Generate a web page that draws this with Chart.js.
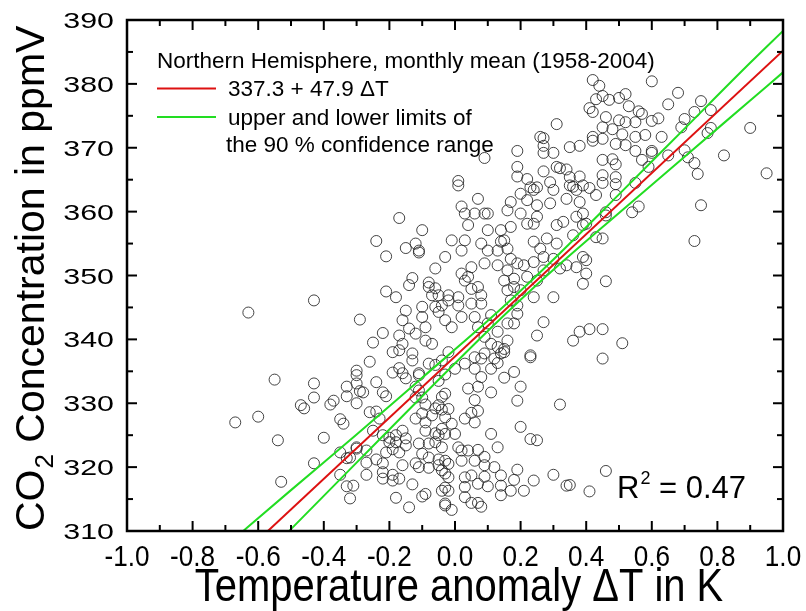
<!DOCTYPE html>
<html>
<head>
<meta charset="utf-8">
<script src="https://cdn.jsdelivr.net/npm/chart.js@4"></script>
<style>
  body { margin: 0; background: #fff; }
  #wrap { width: 806px; height: 611px; }
</style>
</head>
<body>
<div id="wrap"><canvas id="co2Chart" width="806" height="611"></canvas></div>
<script>
// Monthly means, Northern Hemisphere 1958-2004
const tempAnomaly = [
  -0.67,-0.63,-0.60,-0.55,-0.54,-0.53,-0.43,-0.43,-0.43,-0.47,-0.46,-0.40,-0.43,-0.38,-0.37,-0.35,
  -0.34,-0.33,-0.33,-0.30,-0.30,-0.29,-0.28,-0.30,-0.30,-0.26,-0.24,-0.23,-0.24,-0.22,-0.21,-0.35,
  -0.32,-0.30,-0.27,-0.35,-0.33,-0.31,-0.32,-0.27,-0.24,-0.22,-0.21,-0.20,-0.18,-0.19,-0.17,-0.15,
  -0.22,-0.22,-0.19,-0.19,-0.16,-0.17,-0.18,-0.14,-0.30,-0.33,-0.25,-0.27,-0.22,-0.20,-0.18,-0.16,
  -0.15,-0.19,-0.17,-0.16,-0.15,-0.19,-0.17,-0.29,-0.24,-0.21,-0.21,-0.17,-0.25,-0.22,-0.26,
  -0.13,-0.08,-0.11,-0.11,-0.12,-0.11,-0.10,-0.12,-0.09,-0.10,-0.12,-0.09,-0.07,-0.06,-0.05,-0.04,
  -0.13,-0.10,-0.09,-0.03,-0.02,-0.03,-0.09,-0.06,-0.05,-0.04,-0.06,-0.08,-0.11,-0.10,-0.08,-0.05,
  -0.12,-0.11,-0.08,-0.05,-0.03,-0.05,-0.03,-0.06,-0.02,
  -0.10,-0.12,-0.11,-0.11,-0.15,-0.06,-0.03,-0.13,-0.14,-0.08,-0.08,-0.06,-0.05,-0.07,-0.18,-0.15,
  -0.16,-0.14,-0.12,-0.17,-0.16,-0.13,-0.10,-0.10,-0.09,-0.09,-0.07,-0.06,-0.05,-0.04,-0.03,-0.02,
  -0.02,0.01,0.01,0.02,-0.01,0.02,0.03,0.05,0.04,0.05,0.07,0.08,0.05,0.08,0.06,0.07,
  0.10,0.11,0.09,0.11,0.13,0.13,0.14,0.16,0.16,0.18,0.15,0.19,0.19,0.17,0.16,0.15,
  0.16,0.18,0.18,0.20,0.22,0.21,0.19,0.17,0.16,0.14,0.13,0.10,0.08,0.10,0.14,0.17,
  0.15,0.13,0.09,0.07,0.02,0.03,0.06,0.09,0.10,0.04,-0.01,0.03,0.02,0.20,0.22,0.24,
  0.22,0.20,0.25,0.29,0.30,0.25,0.24,0.16,0.17,0.24,0.26,0.28,0.31,0.33,0.37,0.39,
  0.36,0.31,0.27,0.30,0.32,0.27,0.24,0.25,0.24,0.30,0.34,0.37,0.40,0.39,0.40,0.37,
  0.36,0.39,0.34,0.38,0.39,0.40,0.27,0.25,0.36,0.38,0.23,
  0.31,0.26,0.27,0.27,0.35,0.38,0.19,0.27,0.30,0.09,0.19,0.31,0.32,0.34,0.27,0.19,
  0.22,0.29,0.35,0.38,0.01,0.01,0.23,0.25,0.35,
  0.42,0.44,0.60,0.43,0.45,0.47,0.50,0.52,0.68,0.65,0.75,0.41,0.42,0.53,0.56,0.57,
  0.73,0.78,0.46,0.50,0.52,0.55,0.60,0.62,0.70,0.69,0.45,0.48,0.78,0.77,0.90,0.42,
  0.42,0.45,0.51,0.55,0.58,0.63,0.49,0.52,0.55,0.60,0.60,0.65,0.70,0.71,0.82,0.73,
  0.45,0.48,0.49,0.57,0.59,0.45,0.49,0.74,0.95,0.45,0.49,0.41,
  0.43,0.49,0.55,0.75,0.46,0.46,0.54,0.56,0.73,0.43,0.45,0.39,0.46,0.41,0.45,0.51,0.45,
  0.23,0.32,0.20,0.19,0.18,0.15,0.13,0.11,0.08,0.12,0.09,0.15,0.06,0.03,0.00,-0.04,
  0.11,0.08,0.06,0.04,0.07,0.06,0.07,0.05,0.03,0.06,-0.03,-0.02,-0.03,-0.01,0.00,-0.03,
  -0.04,0.01,0.02,-0.03,-0.02,-0.04,-0.02,-0.04,-0.03,-0.01,0.11,0.20,0.13,0.23,0.25,0.07,
  0.04,0.19,0.30,0.46,0.24,0.34,0.35,0.41,0.21,0.18,0.17,0.14,0.14,0.14,0.12,0.09,
  0.09,0.05,0.03,0.07,0.10,0.03,0.03,0.07,0.08,0.05,0.06,0.09,0.02,-0.04
];
const co2 = [
  327.0,344.2,327.9,333.7,324.2,317.7,346.1,333.1,330.9,329.7,329.2,324.6,320.6,329.8,330.4,327.5,
  326.8,332.6,331.1,333.1,334.4,331.9,331.7,330.0,335.1,328.6,328.7,327.6,333.3,331.7,331.1,322.3,
  321.5,322.9,322.6,318.8,317.0,317.1,315.1,318.8,321.2,320.6,322.3,323.9,323.9,322.8,322.3,323.4,
  319.2,318.2,318.8,317.9,320.3,318.2,315.2,313.7,323.1,321.4,325.7,320.7,325.0,324.6,325.0,325.7,
  324.5,334.8,335.5,334.7,333.9,338.0,338.3,343.1,355.4,353.0,347.5,359.0,339.5,341.0,336.5,
  336.7,336.2,334.7,334.4,332.6,332.0,330.9,330.9,329.8,328.4,327.6,327.0,328.1,329.2,329.7,329.0,
  317.3,315.4,315.8,314.3,316.3,316.8,325.7,325.3,325.0,326.0,323.9,323.7,323.7,322.1,321.5,321.2,
  320.6,320.0,319.9,320.3,319.0,333.5,334.5,336.0,338.0,
  357.1,355.0,353.9,353.6,354.3,351.1,352.9,349.6,348.5,348.9,348.2,348.0,346.9,346.9,346.6,344.5,
  343.0,341.7,340.9,340.6,339.3,337.8,345.1,343.5,341.9,339.8,339.3,345.1,344.3,345.3,343.0,346.9,
  346.1,345.3,346.6,343.5,341.9,350.3,349.2,351.3,349.8,347.9,348.2,346.9,345.6,345.6,343.5,341.9,
  342.5,343.8,340.4,339.3,341.2,338.8,337.8,339.8,342.5,342.5,338.5,344.0,345.3,346.1,347.7,349.2,
  350.8,349.5,348.2,347.7,349.8,351.6,351.9,352.6,354.2,355.3,353.9,353.9,355.0,357.1,357.1,357.6,
  355.5,351.6,351.9,362.0,360.8,359.7,359.7,359.7,359.7,357.9,355.5,355.5,353.9,362.8,361.8,363.4,
  358.1,359.7,361.0,361.3,363.4,359.2,358.1,360.2,361.5,355.3,354.2,355.8,357.9,358.4,359.2,357.9,
  356.3,355.0,352.9,352.6,351.1,350.8,352.1,349.2,346.6,346.6,351.6,351.3,352.4,348.7,350.3,363.4,
  363.9,364.1,362.0,361.5,359.7,358.1,342.7,340.6,339.8,341.2,337.5,
  373.7,371.7,371.5,370.3,370.1,370.3,369.5,369.2,369.2,368.4,367.0,367.0,366.8,366.6,366.3,365.5,
  365.1,364.6,365.4,365.5,364.8,364.1,363.8,363.8,364.1,
  380.6,379.7,380.4,377.6,378.1,377.5,377.8,378.4,378.6,376.8,377.3,376.2,375.6,376.5,375.7,375.3,
  375.6,375.9,374.8,374.3,374.0,374.0,374.2,374.6,374.5,373.2,373.2,372.9,373.1,372.3,373.1,371.7,
  371.1,371.4,372.1,371.7,372.0,371.7,370.6,370.4,369.5,369.5,369.2,368.8,369.6,368.5,368.8,367.6,
  368.1,368.2,367.4,368.1,367.0,365.7,365.4,365.9,366.0,364.5,364.3,363.7,
  362.6,362.6,364.5,361.0,359.9,359.4,359.9,360.8,355.4,356.0,355.8,352.9,349.1,341.6,341.6,339.4,337.0,
  337.2,329.8,332.6,330.4,334.9,334.0,336.3,335.4,337.0,337.0,337.8,338.0,337.2,336.2,335.4,336.7,
  331.7,334.1,335.4,332.3,332.6,330.5,328.8,328.5,327.6,327.0,331.5,329.1,327.8,326.8,325.2,325.2,
  323.1,323.1,322.6,321.0,320.5,319.5,318.4,316.3,314.0,313.3,325.2,326.3,323.1,324.4,324.2,322.7,
  322.6,319.6,318.8,319.4,317.9,317.1,317.2,316.2,316.3,318.0,316.3,318.7,317.1,315.6,320.0,320.3,
  318.5,318.7,318.4,317.4,317.0,316.9,315.3,314.4,313.8,314.4,321.0,321.6,321.0,331.0
];

// Regression line from the legend and the 90 % band drawn beside it
const fitX = [-0.7, 1.0];
const fitY = [303.8, 385.2];
const bandX = [-0.7, -0.5, -0.3, -0.1, 0.1, 0.2, 0.3, 0.5, 0.7, 0.9, 1.0];
const bandUpper = [307.6, 316.4, 325.1, 334.0, 342.9, 347.6, 352.5, 362.7, 373.0, 383.3, 388.3];
const bandLower = [299.9, 310.3, 320.7, 331.1, 341.3, 346.2, 350.9, 359.8, 368.6, 377.4, 381.8];

const xTickLabels = ['-1.0', '-0.8', '-0.6', '-0.4', '-0.2', '0.0', '0.2', '0.4', '0.6', '0.8', '1.0'];
const yTickLabels = ['310', '320', '330', '340', '350', '360', '370', '380', '390'];

const FONT = "'Liberation Sans', Arial, sans-serif";

const toPoints = (xs, ys) => xs.map((v, i) => ({ x: v, y: ys[i] }));

function drawText(ctx, s, x, y, size, align, sx) {
  ctx.save();
  ctx.font = size + 'px ' + FONT;
  ctx.textAlign = align || 'left';
  ctx.textBaseline = 'alphabetic';
  ctx.translate(x, y);
  ctx.scale(sx || 1, 1);
  ctx.fillText(s, 0, 0);
  ctx.restore();
}

function seg(ctx, x1, y1, x2, y2) {
  ctx.beginPath();
  ctx.moveTo(x1, y1);
  ctx.lineTo(x2, y2);
  ctx.stroke();
}

// frame, inward ticks, labels, titles, legend
const decorations = {
  id: 'decorations',
  afterDraw(chart) {
    const { ctx, chartArea: a, scales: { x, y } } = chart;
    ctx.save();
    ctx.fillStyle = '#000';
    ctx.strokeStyle = '#000';

    // ticks on all four sides, pointing in
    ctx.lineWidth = 2;
    const xt = x.ticks.map(t => t.value);
    xt.forEach((v, i) => {
      const px = x.getPixelForValue(v);
      seg(ctx, px, a.bottom, px, a.bottom - 10);
      seg(ctx, px, a.top, px, a.top + 10);
      if (i < xt.length - 1) {
        const pm = x.getPixelForValue((v + xt[i + 1]) / 2);
        seg(ctx, pm, a.bottom, pm, a.bottom - 6);
        seg(ctx, pm, a.top, pm, a.top + 6);
      }
      drawText(ctx, xTickLabels[i], px, 566, 29, 'center', 0.9);
    });
    const yt = y.ticks.map(t => t.value);
    yt.forEach((v, i) => {
      const py = y.getPixelForValue(v);
      seg(ctx, a.left, py, a.left + 10, py);
      seg(ctx, a.right, py, a.right - 10, py);
      if (i < yt.length - 1) {
        const pm = y.getPixelForValue((v + yt[i + 1]) / 2);
        seg(ctx, a.left, pm, a.left + 6, pm);
        seg(ctx, a.right, pm, a.right - 6, pm);
      }
      drawText(ctx, yTickLabels[i], 114, py + 8, 22, 'right', 1.38);
    });

    ctx.lineWidth = 2.5;
    ctx.strokeRect(a.left, a.top, a.right - a.left, a.bottom - a.top);

    // axis titles
    drawText(ctx, 'Temperature anomaly \u0394T in K', 459, 601, 47, 'center', 0.85);

    ctx.save();
    ctx.translate(44, 531);
    ctx.rotate(-Math.PI / 2);
    ctx.font = '41px ' + FONT;
    ctx.textAlign = 'left';
    ctx.fillText('CO', 0, 0);
    let w = ctx.measureText('CO').width;
    ctx.font = '26px ' + FONT;
    ctx.fillText('2', w + 1, 9);
    w += ctx.measureText('2').width + 1;
    ctx.font = '41px ' + FONT;
    ctx.fillText(' Concentration in ppmV', w, 0);
    ctx.restore();

    // legend block
    drawText(ctx, 'Northern Hemisphere, monthly mean (1958-2004)', 157, 68, 22.5);
    ctx.lineWidth = 2;
    ctx.strokeStyle = '#dd1111';
    seg(ctx, 157, 88.5, 216, 88.5);
    ctx.strokeStyle = '#22dd22';
    seg(ctx, 157, 117, 216, 117);
    drawText(ctx, '337.3 + 47.9 \u0394T', 228, 96, 22.5);
    drawText(ctx, 'upper and lower limits of', 228, 125, 22.5);
    drawText(ctx, 'the 90 % confidence range', 226, 152, 22.5);

    // R squared
    ctx.font = '31px ' + FONT;
    const rw = ctx.measureText('R').width;
    drawText(ctx, 'R', 617, 498, 31);
    drawText(ctx, '2', 617 + rw + 1, 484, 18);
    drawText(ctx, ' = 0.47', 617 + rw + 11, 498, 31);

    ctx.restore();
  }
};

new Chart(document.getElementById('co2Chart'), {
  type: 'scatter',
  data: {
    datasets: [
      {
        label: 'monthly mean',
        data: toPoints(tempAnomaly, co2),
        pointStyle: 'circle',
        pointRadius: 5.5,
        borderWidth: 1,
        borderColor: 'rgba(35,35,35,0.85)',
        backgroundColor: 'rgba(0,0,0,0)',
        order: 3
      },
      {
        type: 'line',
        label: 'fit',
        data: toPoints(fitX, fitY),
        borderColor: '#dd1111',
        borderWidth: 2,
        pointRadius: 0,
        fill: false,
        order: 1
      },
      {
        type: 'line',
        label: 'upper',
        data: toPoints(bandX, bandUpper),
        borderColor: '#22dd22',
        borderWidth: 2,
        pointRadius: 0,
        cubicInterpolationMode: 'monotone',
        fill: false,
        order: 2
      },
      {
        type: 'line',
        label: 'lower',
        data: toPoints(bandX, bandLower),
        borderColor: '#22dd22',
        borderWidth: 2,
        pointRadius: 0,
        cubicInterpolationMode: 'monotone',
        fill: false,
        order: 2
      }
    ]
  },
  options: {
    responsive: false,
    animation: false,
    devicePixelRatio: 1,
    layout: { padding: { left: 127, right: 23, top: 20, bottom: 80 } },
    scales: {
      x: {
        type: 'linear',
        min: -1,
        max: 1,
        ticks: { display: false, stepSize: 0.2 },
        grid: { display: false },
        border: { display: false },
        afterFit: s => { s.height = 0; }
      },
      y: {
        type: 'linear',
        min: 310,
        max: 390,
        ticks: { display: false, stepSize: 10 },
        grid: { display: false },
        border: { display: false },
        afterFit: s => { s.width = 0; }
      }
    },
    plugins: {
      legend: { display: false },
      tooltip: { enabled: false }
    }
  },
  plugins: [decorations]
});
</script>
</body>
</html>
